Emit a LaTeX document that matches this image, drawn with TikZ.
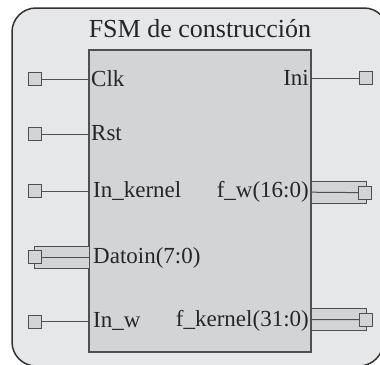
\documentclass[tikz,border=0pt]{standalone}
\usepackage{fontspec}
\setmainfont{Liberation Serif}
\definecolor{outerfill}{HTML}{E6E7E8}
\definecolor{innerfill}{HTML}{D3D4D6}
\definecolor{edgecol}{HTML}{505052}
\definecolor{framecol}{HTML}{333335}
\tikzset{
  outerframe/.style={draw=framecol, fill=outerfill, line width=1.5pt, rounded corners=24pt},
  block/.style={draw=edgecol, fill=innerfill, line width=1.3pt, inner sep=0pt, outer sep=0pt},
  port/.style={draw=edgecol, fill=innerfill, line width=1pt, minimum size=13pt, inner sep=0pt, outer sep=0pt},
  busbar/.style={draw=edgecol, fill=innerfill, line width=1pt, minimum height=22pt, inner sep=0pt, outer sep=0pt},
  wire/.style={draw=edgecol, line width=1pt},
  lbl/.style={inner sep=0pt, text=black!85, font=\fontsize{23}{27}\selectfont},
  ttl/.style={inner sep=0pt, text=black!85, font=\fontsize{26}{30}\selectfont}
}
\begin{document}
\begin{tikzpicture}[x=1pt,y=-1pt]
\useasboundingbox (0,0) rectangle (380,364);
\clip (0,0) rectangle (380,364);
\path[outerframe] (12,8) -- (388,8) -- (383,366) -- (12,366) -- cycle;
\node[ttl, anchor=base] (title) at (200,37.3) {FSM de construcción};
\node[block, minimum width=222pt, minimum height=302pt, anchor=north west] (blk) at (89,50) {};
% buses
\node[busbar, minimum width=55pt, anchor=west] (bDat) at (34.3,257) {};
\node[busbar, minimum width=55pt, anchor=west] (bFw) at (311,192.2) {};
\node[busbar, minimum width=55pt, anchor=west] (bFk) at (311,319.5) {};
% left ports
\node[port] (pClk) at (35,79) {};
\node[port] (pRst) at (35,134.3) {};
\node[port] (pInk) at (35,191) {};
\node[port] (pDat) at (34.7,257) {};
\node[port] (pInw) at (35,321.7) {};
% right ports
\node[port] (pIni) at (366,78.3) {};
\node[port] (pFw) at (365.4,192.6) {};
\node[port] (pFk) at (365.5,319.6) {};
% wires
\draw[wire] (pClk.east) -- (pClk -| blk.west);
\draw[wire] (pRst.east) -- (pRst -| blk.west);
\draw[wire] (pInk.east) -- (pInk -| blk.west);
\draw[wire] (pDat.east) -- (bDat.east);
\draw[wire] (pInw.east) -- (pInw -| blk.west);
\draw[wire] (pIni.west) -- (pIni -| blk.east);
\draw[wire] (pFw.west) -- (bFw.west);
\draw[wire] (pFk.west) -- (bFk.west);
% labels
\node[lbl, anchor=base west] (lClk) at (91,86) {Clk};
\node[lbl, anchor=base west] (lRst) at (91,140.6) {Rst};
\node[lbl, anchor=base west] (lInk) at (93,197) {In\_kernel};
\node[lbl, anchor=base west] (lDat) at (93,263) {Datoin(7:0)};
\node[lbl, anchor=base west] (lInw) at (93,327) {In\_w};
\node[lbl, anchor=base east] (lIni) at (309,85) {Ini};
\node[lbl, anchor=base east] (lFw) at (309,197.8) {f\_w(16:0)};
\node[lbl, anchor=base east] (lFk) at (309,326.5) {f\_kernel(31:0)};
\end{tikzpicture}
\end{document}
